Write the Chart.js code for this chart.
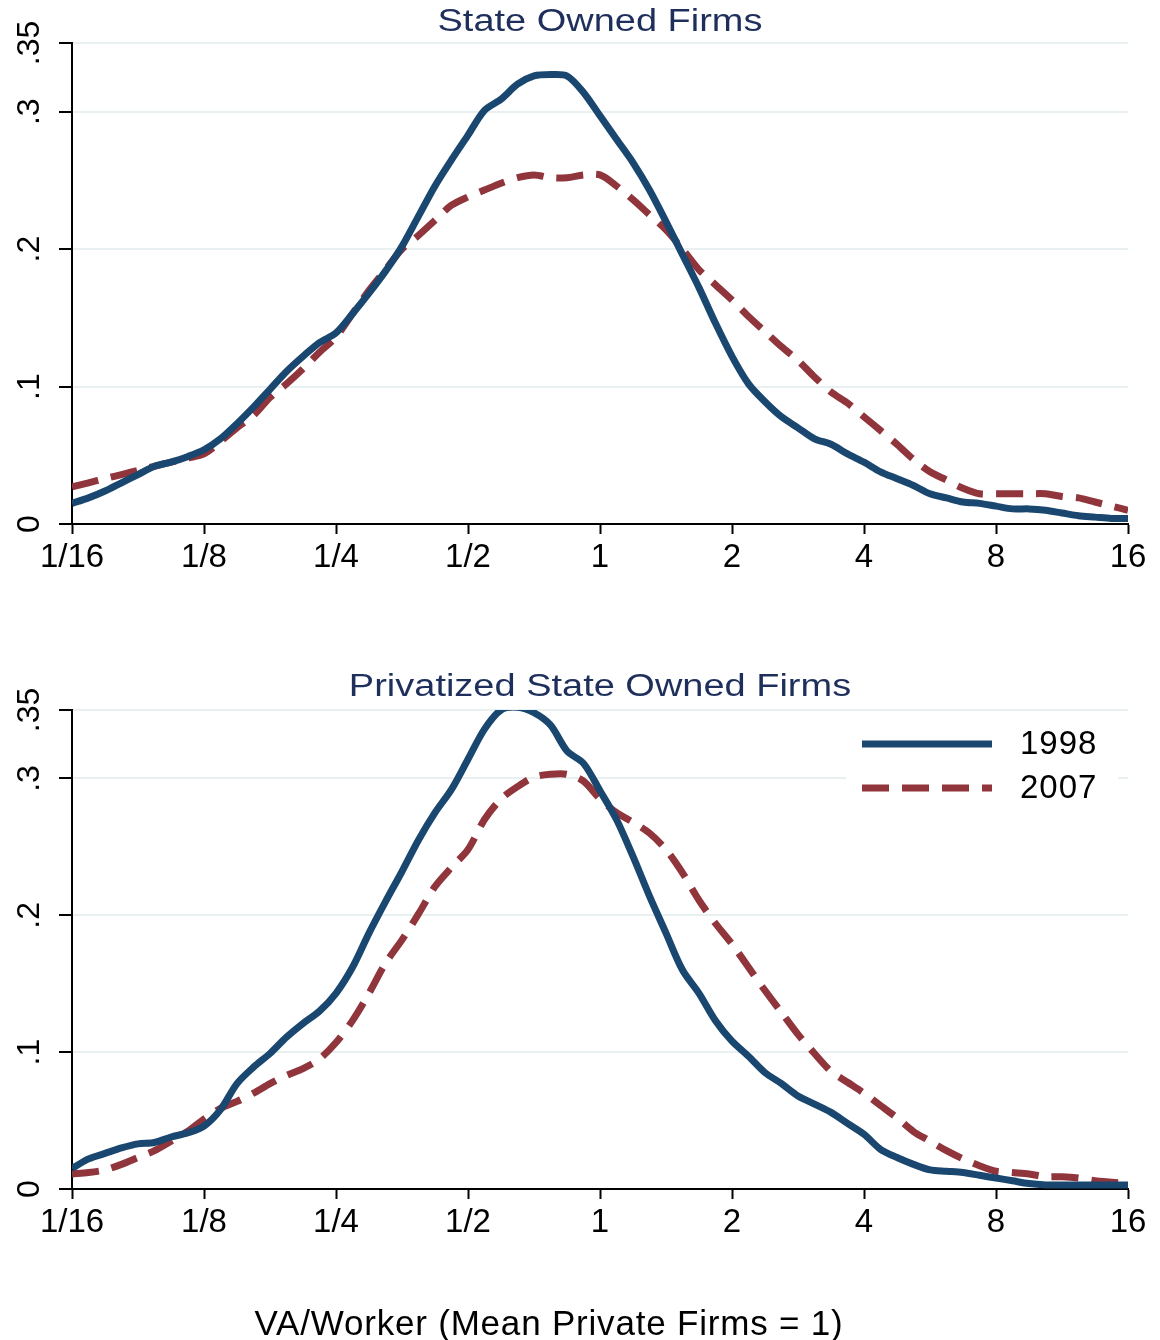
<!DOCTYPE html>
<html>
<head>
<meta charset="utf-8">
<script src="https://cdn.jsdelivr.net/npm/chart.js@4.4.0/dist/chart.umd.min.js"></script>
<style>
  body { margin: 0; background: #fff; }
  #wrap { position: relative; width: 1160px; height: 1340px; overflow: hidden; }
  canvas { position: absolute; left: 0; }
  #topChart { top: 0; }
  #bottomChart { top: 600px; }
  .ptitle { position: absolute; left: 0; width: 1200px; text-align: center; font: 31px/31px 'Liberation Sans', Arial, sans-serif; color: #1e2f5c; white-space: nowrap; transform: scaleX(1.225); transform-origin: 600px 50%; }
  #xtitle { position: absolute; left: 0; top: 1305px; width: 1098px; text-align: center; font: 35px/35px 'Liberation Sans', Arial, sans-serif; letter-spacing: 0.8px; color: #000; white-space: nowrap; }
</style>
</head>
<body>
<div id="wrap">
  <canvas id="topChart" width="1160" height="600"></canvas>
  <canvas id="bottomChart" width="1160" height="740"></canvas>
  <div class="ptitle" style="top:5px">State Owned Firms</div>
  <div class="ptitle" style="top:670px">Privatized State Owned Firms</div>
  <div id="xtitle">VA/Worker (Mean Private Firms = 1)</div>
</div>
<script>
const FONT = "'Liberation Sans', Arial, Helvetica, sans-serif";
const NAVY = '#1a476f';
const MAROON = '#90353b';
const GRID = '#e8f0f2';

// log2 of VA/worker, 1/8 octave steps
const xGrid = [-4, -3.875, -3.75, -3.625, -3.5, -3.375, -3.25, -3.125, -3, -2.875, -2.75, -2.625, -2.5, -2.375, -2.25, -2.125,
  -2, -1.875, -1.75, -1.625, -1.5, -1.375, -1.25, -1.125, -1, -0.875, -0.75, -0.625, -0.5, -0.375, -0.25, -0.125,
  0, 0.125, 0.25, 0.375, 0.5, 0.625, 0.75, 0.875, 1, 1.125, 1.25, 1.375, 1.5, 1.625, 1.75, 1.875,
  2, 2.125, 2.25, 2.375, 2.5, 2.625, 2.75, 2.875, 3, 3.125, 3.25, 3.375, 3.5, 3.625, 3.75, 3.875, 4];

const xTickValues = [-4, -3, -2, -1, 0, 1, 2, 3, 4];
const xTickLabels = ['1/16', '1/8', '1/4', '1/2', '1', '2', '4', '8', '16'];
const yTickValues = [0, 0.1, 0.2, 0.3, 0.35];
const yTickLabels = ['0', '.1', '.2', '.3', '.35'];

const soe1998 = [0.015, 0.019, 0.024, 0.030, 0.036, 0.042, 0.045, 0.049, 0.054, 0.062, 0.073, 0.085, 0.098, 0.111, 0.122, 0.132,
  0.139, 0.153, 0.168, 0.184, 0.202, 0.224, 0.246, 0.265, 0.283, 0.301, 0.309, 0.320, 0.326, 0.327, 0.326, 0.314,
  0.297, 0.280, 0.263, 0.243, 0.220, 0.196, 0.172, 0.146, 0.122, 0.102, 0.089, 0.078, 0.070, 0.062, 0.058, 0.051,
  0.045, 0.038, 0.033, 0.028, 0.022, 0.019, 0.016, 0.015, 0.013, 0.011, 0.011, 0.010, 0.008, 0.006, 0.005, 0.004, 0.004];
const soe2007 = [0.027, 0.030, 0.033, 0.036, 0.039, 0.042, 0.045, 0.048, 0.051, 0.060, 0.070, 0.079, 0.092, 0.102, 0.113, 0.125,
  0.136, 0.153, 0.170, 0.185, 0.200, 0.210, 0.221, 0.232, 0.238, 0.243, 0.248, 0.252, 0.254, 0.252, 0.252, 0.254,
  0.254, 0.246, 0.236, 0.225, 0.214, 0.200, 0.185, 0.174, 0.163, 0.151, 0.140, 0.129, 0.119, 0.107, 0.096, 0.088,
  0.078, 0.068, 0.058, 0.047, 0.038, 0.032, 0.026, 0.022, 0.022, 0.022, 0.022, 0.022, 0.020, 0.019, 0.016, 0.013, 0.010];
const priv1998 = [0.015, 0.022, 0.026, 0.030, 0.033, 0.034, 0.038, 0.041, 0.046, 0.058, 0.077, 0.089, 0.099, 0.111, 0.121, 0.130,
  0.143, 0.162, 0.187, 0.210, 0.232, 0.255, 0.275, 0.292, 0.314, 0.336, 0.350, 0.352, 0.348, 0.339, 0.320, 0.311,
  0.291, 0.270, 0.243, 0.214, 0.187, 0.160, 0.143, 0.123, 0.108, 0.097, 0.085, 0.077, 0.068, 0.062, 0.056, 0.048,
  0.040, 0.029, 0.023, 0.018, 0.014, 0.013, 0.012, 0.010, 0.008, 0.006, 0.004, 0.003, 0.003, 0.003, 0.003, 0.003, 0.003];
const priv2007 = [0.011, 0.012, 0.014, 0.018, 0.023, 0.028, 0.035, 0.042, 0.051, 0.059, 0.064, 0.070, 0.077, 0.083, 0.088, 0.095,
  0.107, 0.123, 0.143, 0.165, 0.182, 0.201, 0.221, 0.235, 0.248, 0.270, 0.285, 0.294, 0.301, 0.303, 0.303, 0.298,
  0.285, 0.275, 0.268, 0.260, 0.248, 0.231, 0.211, 0.194, 0.179, 0.162, 0.145, 0.129, 0.113, 0.099, 0.086, 0.078,
  0.070, 0.061, 0.052, 0.042, 0.035, 0.028, 0.022, 0.017, 0.013, 0.012, 0.011, 0.009, 0.009, 0.008, 0.006, 0.005, 0.004];

// rotated y tick labels, like the Stata original
const yLabelPlugin = {
  id: 'yLabels',
  afterDraw(chart) {
    const { ctx, scales: { y } } = chart;
    ctx.save();
    ctx.font = `32px ${FONT}`;
    ctx.fillStyle = '#000';
    ctx.textAlign = 'center';
    ctx.textBaseline = 'middle';
    y.ticks.forEach((t, i) => {
      ctx.save();
      ctx.translate(y.left + 30, y.getPixelForValue(t.value));
      ctx.rotate(-Math.PI / 2);
      ctx.fillText(yTickLabels[i], 0, 0);
      ctx.restore();
    });
    ctx.restore();
  },
};

// legend box sitting inside the plot area
const legendPlugin = {
  id: 'insideLegend',
  beforeDatasetsDraw(chart, args, opts) {
    if (!opts.show) return;
    const { ctx, chartArea: a } = chart;
    ctx.save();
    ctx.fillStyle = '#fff';
    ctx.fillRect(a.right - 282, a.top + 4, 272, 100);
    chart.data.datasets.forEach((ds, i) => {
      const ly = a.top + 34 + i * 44;
      ctx.strokeStyle = ds.borderColor;
      ctx.lineWidth = 7;
      ctx.lineCap = 'butt';
      ctx.setLineDash(ds.borderDash || []);
      ctx.beginPath();
      ctx.moveTo(a.right - 266, ly);
      ctx.lineTo(a.right - 136, ly);
      ctx.stroke();
      ctx.setLineDash([]);
      ctx.fillStyle = '#000';
      ctx.font = `33px ${FONT}`;
      ctx.letterSpacing = '1px';
      ctx.textAlign = 'left';
      ctx.textBaseline = 'middle';
      ctx.fillText(ds.label, a.right - 108, ly + 1);
    });
    ctx.restore();
  },
};

function makeChart(id, s1998, s2007, topPad, xHeight, showLegend) {
  return new Chart(document.getElementById(id), {
    type: 'line',
    data: {
      datasets: [
        { label: '1998', data: xGrid.map((x, i) => ({ x, y: s1998[i] })), borderColor: NAVY, borderWidth: 7,
          pointRadius: 0, tension: 0.3, fill: false },
        { label: '2007', data: xGrid.map((x, i) => ({ x, y: s2007[i] })), borderColor: MAROON, borderWidth: 7,
          borderDash: [27, 13], pointRadius: 0, tension: 0.3, fill: false },
      ],
    },
    options: {
      responsive: false,
      animation: false,
      devicePixelRatio: 1,
      layout: { padding: { left: 0, right: 32, top: topPad, bottom: 0 } },
      plugins: {
        legend: { display: false },
        tooltip: { enabled: false },
        insideLegend: { show: showLegend },
      },
      scales: {
        x: {
          type: 'linear',
          min: -4,
          max: 4,
          afterBuildTicks: (s) => { s.ticks = xTickValues.map((v) => ({ value: v })); },
          afterFit: (s) => { s.height = xHeight; },
          ticks: {
            callback: (v, i) => xTickLabels[i],
            font: { family: FONT, size: 33 },
            color: '#000',
            padding: 4,
            maxRotation: 0,
            autoSkip: false,
          },
          grid: { drawOnChartArea: false, drawTicks: true, tickLength: 10, tickColor: '#000', tickWidth: 2 },
          border: { color: '#000', width: 2 },
        },
        y: {
          min: 0,
          max: 0.35,
          afterBuildTicks: (s) => { s.ticks = yTickValues.map((v) => ({ value: v })); },
          afterFit: (s) => { s.width = 72; },
          ticks: { display: false },
          grid: {
            color: (c) => (c.tick && c.tick.value === 0 ? 'rgba(0,0,0,0)' : GRID),
            lineWidth: 2,
            tickLength: 13,
            tickColor: '#000',
            tickWidth: 2,
          },
          border: { color: '#000', width: 2 },
        },
      },
    },
    plugins: [yLabelPlugin, legendPlugin],
  });
}

makeChart('topChart', soe1998, soe2007, 43, 76, false);
makeChart('bottomChart', priv1998, priv2007, 110, 151, true);
</script>
</body>
</html>
